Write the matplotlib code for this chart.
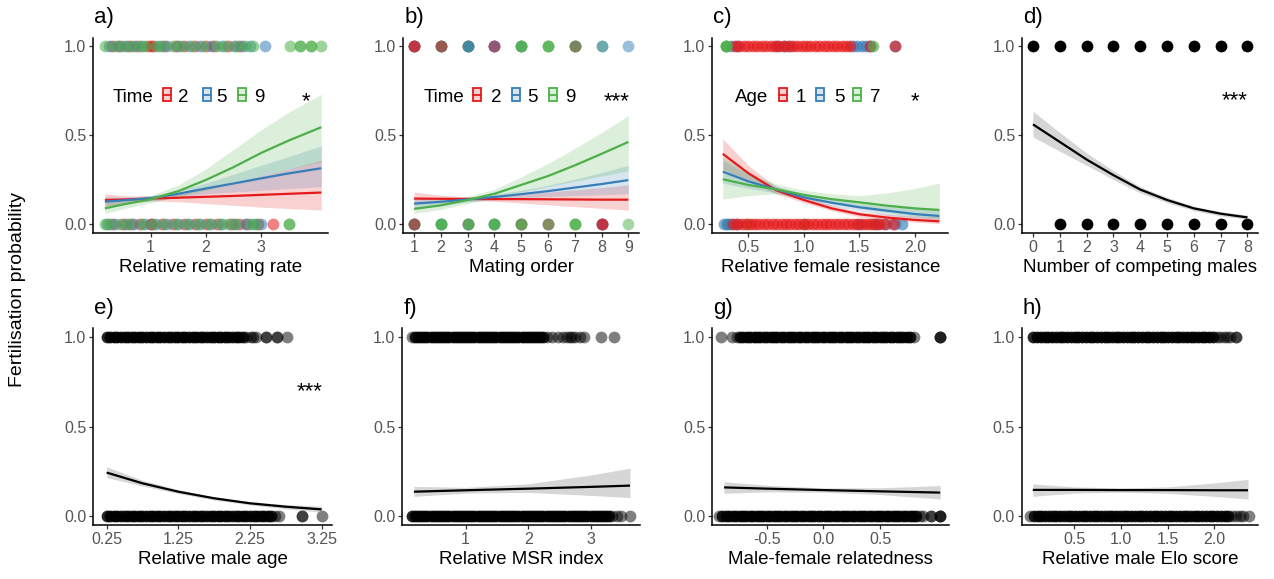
import matplotlib
matplotlib.use("Agg")
import matplotlib.pyplot as plt
from matplotlib.patches import Rectangle
from matplotlib.lines import Line2D

plt.rcParams['font.family'] = ['Liberation Sans', 'DejaVu Sans']

RED = '#E41A1C'
BLUE = '#377EB8'
GREEN = '#4DAF4A'

####################################################################
# a) relative remating rate, by time (2, 5, 9)
####################################################################
a_levels = ['2', '5', '9']
a_top_t2 = [0.30, 0.45, 0.60, 0.75, 0.95, 1.00, 1.05, 1.25, 1.45, 1.60, 1.80, 2.00, 2.15, 2.40, 2.60]
a_top_t5 = [0.25, 0.40, 0.55, 0.70, 0.85, 1.15, 1.30, 1.50, 1.70, 1.90, 2.10, 2.30, 2.50, 2.65, 2.80, 3.07]
a_top_t9 = [0.17, 0.35, 0.50, 0.65, 0.80, 0.90, 1.10, 1.20, 1.40, 1.55, 1.75, 1.95, 2.20, 2.35,
            2.55, 2.70, 2.85, 3.52, 3.70, 3.70, 3.91, 3.91, 4.09]
a_bot_t2 = [0.30, 0.50, 0.65, 0.80, 1.00, 1.00, 1.20, 1.40, 1.60, 1.80, 2.00, 2.20, 2.45, 2.60,
            2.75, 2.95, 3.22]
a_bot_t5 = [0.20, 0.35, 0.55, 0.70, 0.90, 1.10, 1.30, 1.50, 1.70, 1.90, 2.10, 2.30, 2.50, 2.70,
            2.85, 3.00]
a_bot_t9 = [0.17, 0.25, 0.45, 0.60, 0.85, 1.05, 1.25, 1.45, 1.65, 1.85, 2.05, 2.25, 2.40, 2.55,
            2.80, 2.90, 3.50, 3.50]

a_fit_x = [0.17, 0.5, 1.0, 1.5, 2.0, 2.5, 3.0, 3.5, 4.09]
a_fit_t2 = [0.135, 0.138, 0.143, 0.148, 0.153, 0.158, 0.164, 0.170, 0.177]
a_lo_t2 = [0.100, 0.115, 0.130, 0.125, 0.115, 0.105, 0.095, 0.087, 0.079]
a_hi_t2 = [0.170, 0.160, 0.157, 0.175, 0.200, 0.230, 0.270, 0.310, 0.360]
a_fit_t5 = [0.126, 0.133, 0.145, 0.170, 0.200, 0.228, 0.257, 0.285, 0.314]
a_lo_t5 = [0.100, 0.115, 0.130, 0.150, 0.170, 0.180, 0.190, 0.200, 0.210]
a_hi_t5 = [0.155, 0.150, 0.160, 0.190, 0.230, 0.280, 0.330, 0.380, 0.440]
a_fit_t9 = [0.088, 0.110, 0.139, 0.185, 0.248, 0.320, 0.400, 0.470, 0.545]
a_lo_t9 = [0.060, 0.085, 0.120, 0.155, 0.190, 0.230, 0.270, 0.310, 0.350]
a_hi_t9 = [0.130, 0.140, 0.160, 0.220, 0.310, 0.420, 0.530, 0.630, 0.730]

####################################################################
# b) mating order, by time; each string = groups observed at that order
####################################################################
b_x = [1, 2, 3, 4, 5, 6, 7, 8, 9]
b_top_groups = ['55522', '99952', '29955', '2225', '5999', '999', '5529', '95', '5']
b_bot_groups = ['99952', '5999', '2599', '5999', '5299', '529', '999', '55522', '9']

b_fit_x = [1, 2, 3, 4, 5, 6, 7, 8, 9]
b_fit_t2 = [0.143, 0.142, 0.141, 0.140, 0.140, 0.139, 0.138, 0.137, 0.137]
b_lo_t2 = [0.110, 0.125, 0.132, 0.128, 0.118, 0.108, 0.098, 0.088, 0.078]
b_hi_t2 = [0.180, 0.162, 0.152, 0.156, 0.168, 0.180, 0.192, 0.205, 0.220]
b_fit_t5 = [0.115, 0.125, 0.138, 0.152, 0.168, 0.185, 0.205, 0.225, 0.247]
b_lo_t5 = [0.090, 0.106, 0.124, 0.138, 0.148, 0.155, 0.160, 0.165, 0.170]
b_hi_t5 = [0.145, 0.145, 0.152, 0.168, 0.190, 0.218, 0.252, 0.290, 0.330]
b_fit_t9 = [0.085, 0.105, 0.135, 0.170, 0.220, 0.270, 0.330, 0.395, 0.462]
b_lo_t9 = [0.060, 0.082, 0.115, 0.150, 0.180, 0.210, 0.240, 0.270, 0.300]
b_hi_t9 = [0.120, 0.135, 0.155, 0.195, 0.265, 0.340, 0.425, 0.515, 0.610]

####################################################################
# c) relative female resistance, by age (1, 5, 7)
####################################################################
c_levels = ['1', '5', '7']
c_top_a1 = [0.38, 0.42, 0.46, 0.50, 0.54, 0.58, 0.62, 0.66, 0.70, 0.74, 0.78, 0.82, 0.86, 0.90,
            0.94, 0.98, 1.02, 1.06, 1.10, 1.14, 1.18, 1.22, 1.26, 1.30, 1.34, 1.38, 1.42, 1.60, 1.82]
c_top_a5 = [0.34, 0.40, 0.76, 0.82, 0.88, 1.44, 1.48, 1.52, 1.56, 1.60, 1.82]
c_top_a7 = [0.30, 0.30, 0.30, 1.62]
c_bot_a1 = [0.36, 0.40, 0.44, 0.48, 0.52, 0.56, 0.60, 0.64, 0.68, 0.72, 0.76, 0.80, 0.84, 0.88,
            0.92, 0.96, 1.00, 1.04, 1.08, 1.12, 1.16, 1.20, 1.24, 1.28, 1.32, 1.36, 1.40, 1.44,
            1.48, 1.52, 1.56, 1.60, 1.64, 1.68, 1.72, 1.80]
c_bot_a5 = [0.28, 0.31, 0.34, 0.40, 1.50, 1.66, 1.74, 1.82, 1.88]
c_bot_a7 = [0.32, 0.50, 1.00, 1.62]

c_fit_x = [0.27, 0.5, 0.75, 1.0, 1.25, 1.5, 1.75, 2.0, 2.22]
c_fit_a1 = [0.395, 0.286, 0.190, 0.135, 0.088, 0.055, 0.036, 0.023, 0.015]
c_lo_a1 = [0.310, 0.240, 0.170, 0.120, 0.075, 0.040, 0.022, 0.010, 0.003]
c_hi_a1 = [0.480, 0.330, 0.210, 0.155, 0.105, 0.070, 0.055, 0.045, 0.040]
c_fit_a5 = [0.295, 0.240, 0.195, 0.150, 0.120, 0.094, 0.075, 0.056, 0.045]
c_lo_a5 = [0.230, 0.200, 0.175, 0.135, 0.100, 0.075, 0.050, 0.035, 0.025]
c_hi_a5 = [0.360, 0.280, 0.215, 0.170, 0.140, 0.115, 0.100, 0.090, 0.080]
c_fit_a7 = [0.252, 0.220, 0.195, 0.164, 0.140, 0.122, 0.103, 0.088, 0.079]
c_lo_a7 = [0.140, 0.160, 0.170, 0.145, 0.115, 0.090, 0.065, 0.045, 0.030]
c_hi_a7 = [0.380, 0.290, 0.225, 0.190, 0.170, 0.160, 0.175, 0.200, 0.230]

####################################################################
# d) number of competing males
####################################################################
d_top_x = [0, 1, 2, 3, 4, 5, 6, 7, 8]
d_bot_x = [1, 2, 3, 4, 5, 6, 7, 8]
d_fit_x = [0, 1, 2, 3, 4, 5, 6, 7, 8]
d_fit = [0.561, 0.462, 0.363, 0.275, 0.194, 0.135, 0.088, 0.058, 0.037]
d_lo = [0.490, 0.410, 0.330, 0.250, 0.175, 0.120, 0.075, 0.045, 0.028]
d_hi = [0.635, 0.515, 0.400, 0.300, 0.210, 0.150, 0.100, 0.070, 0.050]

####################################################################
# e) relative male age  (dense = heavily overplotted run, sparse = lone points)
####################################################################
e_top_dense = [0.25, 0.30, 0.35, 0.40, 0.45, 0.50, 0.55, 0.60, 0.65, 0.70,
               0.75, 0.80, 0.85, 0.90, 0.95, 1.00, 1.05, 1.10, 1.15, 1.20,
               1.25, 1.30, 1.35, 1.40, 1.45, 1.50, 1.55, 1.60, 1.65, 1.70,
               1.75, 1.80, 1.85, 1.90, 1.95, 2.00, 2.05, 2.10, 2.15]
e_top_sparse = [2.20, 2.26, 2.29, 2.33, 2.47, 2.47, 2.63, 2.63, 2.77]
e_bot_dense = [0.25, 0.30, 0.35, 0.40, 0.45, 0.50, 0.55, 0.60, 0.65, 0.70,
               0.75, 0.80, 0.85, 0.90, 0.95, 1.00, 1.05, 1.10, 1.15, 1.20,
               1.25, 1.30, 1.35, 1.40, 1.45, 1.50, 1.55, 1.60, 1.65, 1.70,
               1.75, 1.80, 1.85, 1.90, 1.95, 2.00, 2.05, 2.10, 2.15, 2.20,
               2.25, 2.30, 2.35, 2.40, 2.45, 2.50, 2.55]
e_bot_sparse = [2.60, 2.65, 2.97, 2.97, 3.25]
e_fit_x = [0.25, 0.75, 1.25, 1.75, 2.25, 2.75, 3.25]
e_fit = [0.243, 0.183, 0.136, 0.099, 0.071, 0.052, 0.037]
e_lo = [0.215, 0.168, 0.126, 0.090, 0.062, 0.040, 0.022]
e_hi = [0.275, 0.200, 0.147, 0.108, 0.080, 0.064, 0.055]

####################################################################
# f) relative MSR index
####################################################################
f_top_dense = [0.19, 0.24, 0.29, 0.34, 0.39, 0.44, 0.49, 0.54, 0.59,
               0.64, 0.69, 0.74, 0.79, 0.84, 0.89, 0.94, 0.99, 1.04, 1.09,
               1.14, 1.19, 1.24, 1.29, 1.34, 1.39, 1.44, 1.49, 1.54, 1.59,
               1.64, 1.69, 1.74, 1.79, 1.84, 1.89, 1.94, 1.99, 2.04, 2.09,
               2.14, 2.19, 2.24]
f_top_sparse = [0.14, 2.29, 2.38, 2.47, 2.55, 2.62, 2.66, 2.70, 2.74, 2.83, 2.88, 3.15, 3.36]
f_bot_dense = [0.14, 0.19, 0.24, 0.29, 0.34, 0.39, 0.44, 0.49, 0.54, 0.59,
               0.64, 0.69, 0.74, 0.79, 0.84, 0.89, 0.94, 0.99, 1.04, 1.09,
               1.14, 1.19, 1.24, 1.29, 1.34, 1.39, 1.44, 1.49, 1.54, 1.59,
               1.64, 1.69, 1.74, 1.79, 1.84, 1.89, 1.94, 1.99, 2.04, 2.09,
               2.14, 2.19, 2.24, 2.29, 2.34, 2.39, 2.44, 2.49, 2.54, 2.59,
               2.64, 2.69, 2.74, 2.79, 2.84, 2.89, 2.94, 2.99, 3.04, 3.09,
               3.14, 3.19, 3.24, 3.29]
f_bot_sparse = [3.34, 3.41, 3.47, 3.62]
f_fit_x = [0.175, 1.0, 2.0, 3.0, 3.62]
f_fit = [0.136, 0.144, 0.153, 0.163, 0.170]
f_lo = [0.110, 0.128, 0.132, 0.115, 0.103]
f_hi = [0.166, 0.160, 0.180, 0.230, 0.268]

####################################################################
# g) male-female relatedness
####################################################################
g_top_dense = [-0.735, -0.705, -0.675, -0.645, -0.615, -0.585, -0.555, -0.525, -0.495,
               -0.465, -0.435, -0.405, -0.375, -0.345, -0.315, -0.285, -0.255, -0.225, -0.195,
               -0.165, -0.135, -0.105, -0.075, -0.045, -0.015, 0.015, 0.045, 0.075, 0.105,
               0.135, 0.165, 0.195, 0.225, 0.255, 0.285, 0.315, 0.345, 0.375, 0.405,
               0.435, 0.465, 0.495, 0.525, 0.555, 0.585, 0.615, 0.645, 0.675, 0.705,
               0.735, 0.765]
g_top_sparse = [-0.90, -0.81, -0.765, 0.795, 1.03, 1.03, 1.03]
g_bot_dense = [-0.89, -0.86, -0.83, -0.80, -0.77, -0.74, -0.71, -0.68, -0.65,
               -0.62, -0.59, -0.56, -0.53, -0.50, -0.47, -0.44, -0.41, -0.38, -0.35,
               -0.32, -0.29, -0.26, -0.23, -0.20, -0.17, -0.14, -0.11, -0.08, -0.05,
               -0.02, 0.01, 0.04, 0.07, 0.10, 0.13, 0.16, 0.19, 0.22, 0.25,
               0.28, 0.31, 0.34, 0.37, 0.40, 0.43, 0.46, 0.49, 0.52, 0.55,
               0.58, 0.61, 0.64, 0.67, 0.70, 0.73, 0.76, 0.79, 0.82]
g_bot_sparse = [-0.92, 0.85, 0.88, 0.95, 0.95, 1.03, 1.03, 1.03]
g_fit_x = [-0.876, -0.5, 0.0, 0.5, 1.03]
g_fit = [0.160, 0.153, 0.145, 0.138, 0.131]
g_lo = [0.127, 0.135, 0.133, 0.120, 0.095]
g_hi = [0.192, 0.172, 0.157, 0.158, 0.170]

####################################################################
# h) relative male Elo score
####################################################################
h_top_dense = [0.065, 0.105, 0.145, 0.185, 0.225, 0.265, 0.305, 0.345, 0.385, 0.425,
               0.465, 0.505, 0.545, 0.585, 0.625, 0.665, 0.705, 0.745, 0.785, 0.825,
               0.865, 0.905, 0.945, 0.985, 1.025, 1.065, 1.105, 1.145, 1.185, 1.225,
               1.265, 1.305, 1.345, 1.385, 1.425, 1.465, 1.505, 1.545, 1.585, 1.625,
               1.665, 1.705, 1.745, 1.785, 1.825, 1.865, 1.905, 1.945, 1.985]
h_top_sparse = [2.025, 2.065, 2.10, 2.13, 2.17, 2.23, 2.23]
h_bot_dense = [0.07, 0.11, 0.15, 0.19, 0.23, 0.27, 0.31, 0.35, 0.39,
               0.43, 0.47, 0.51, 0.55, 0.59, 0.63, 0.67, 0.71, 0.75, 0.79,
               0.83, 0.87, 0.91, 0.95, 0.99, 1.03, 1.07, 1.11, 1.15, 1.19,
               1.23, 1.27, 1.31, 1.35, 1.39, 1.43, 1.47, 1.51, 1.55, 1.59,
               1.63, 1.67, 1.71, 1.75, 1.79, 1.83, 1.87, 1.91, 1.95, 1.99,
               2.03, 2.07, 2.11, 2.15]
h_bot_sparse = [0.03, 2.19, 2.23, 2.27, 2.31, 2.37]
h_fit_x = [0.058, 0.5, 1.0, 1.5, 2.0, 2.36]
h_fit = [0.146, 0.146, 0.145, 0.145, 0.144, 0.144]
h_lo = [0.110, 0.128, 0.133, 0.127, 0.110, 0.095]
h_hi = [0.180, 0.163, 0.157, 0.163, 0.185, 0.205]

# level -> colour for the coloured panels
colours_time = {'2': RED, '5': BLUE, '9': GREEN}
colours_age = {'1': RED, '5': BLUE, '7': GREEN}

PT_SIZE = 72
PT_ALPHA = 0.5
DENSE_ALPHA = 0.85   # heavily overplotted runs read as nearly solid


def style_axes(ax, xlim, xticks, xticklabels, xlabel, letter):
    ax.set_xlim(*xlim)
    ax.set_ylim(-0.05, 1.05)
    ax.set_xticks(xticks)
    ax.set_xticklabels(xticklabels)
    ax.set_yticks([0, 0.5, 1.0])
    ax.set_yticklabels(['0.0', '0.5', '1.0'])
    for side in ['top', 'right']:
        ax.spines[side].set_visible(False)
    for side in ['left', 'bottom']:
        ax.spines[side].set_linewidth(1.1)
        ax.spines[side].set_color('black')
    ax.tick_params(direction='out', length=3, width=0.9, color='#333333',
                   labelcolor='#555555', labelsize=11.5, pad=2)
    ax.text(0.5, -0.175, xlabel, transform=ax.transAxes, ha='center', va='center',
            fontsize=13.5)
    ax.text(0.005, 1.10, letter, transform=ax.transAxes, ha='left', va='center',
            fontsize=16)


def draw_fit(ax, x, fit, lo, hi, colour, fill, fill_alpha):
    ax.fill_between(x, lo, hi, color=fill, alpha=fill_alpha, lw=0)
    ax.plot(x, fit, color=colour, lw=1.6, solid_capstyle='butt')


def draw_points(ax, xs, y, colour, alpha=PT_ALPHA):
    ax.scatter(xs, [y] * len(xs), s=PT_SIZE, color=colour, alpha=alpha,
               linewidths=0, clip_on=False)


def draw_legend(ax, title, levels, colours, title_x, key_xs, label_xs):
    ax.text(title_x, 0.671, title, transform=ax.transAxes, ha='left', va='baseline',
            fontsize=13.5)
    w, h = 0.034, 0.066
    for lev, kx, lx in zip(levels, key_xs, label_xs):
        c = colours[lev]
        ax.add_patch(Rectangle((kx - w / 2, 0.708 - h / 2), w, h, transform=ax.transAxes,
                               facecolor=c, alpha=0.2, lw=0))
        ax.add_patch(Rectangle((kx - w / 2, 0.708 - h / 2), w, h, transform=ax.transAxes,
                               facecolor='none', edgecolor=c, lw=1.3))
        ax.add_line(Line2D([kx - w / 2, kx + w / 2], [0.708, 0.708], transform=ax.transAxes,
                           color=c, lw=1.3))
        ax.text(lx, 0.671, lev, transform=ax.transAxes, ha='center', va='baseline',
                fontsize=13.5)


def draw_stars(ax, text, x, y):
    ax.text(x, y, text, transform=ax.transAxes, ha='center', va='baseline', fontsize=16)


def main():
    fig = plt.figure(figsize=(12.74, 5.79), dpi=100)

    top_b, top_h = 0.5978, 0.3374
    bot_b, bot_h = 0.0934, 0.3394
    ax_a = fig.add_axes([0.0732, top_b, 0.1842, top_h])
    ax_b = fig.add_axes([0.3166, top_b, 0.1850, top_h])
    ax_c = fig.add_axes([0.5591, top_b, 0.1852, top_h])
    ax_d = fig.add_axes([0.8024, top_b, 0.1852, top_h])
    ax_e = fig.add_axes([0.0732, bot_b, 0.1871, bot_h])
    ax_f = fig.add_axes([0.3158, bot_b, 0.1866, bot_h])
    ax_g = fig.add_axes([0.5591, bot_b, 0.1860, bot_h])
    ax_h = fig.add_axes([0.8020, bot_b, 0.1857, bot_h])

    # a)
    for xs, y, lev in [(a_top_t2, 1, '2'), (a_top_t5, 1, '5'), (a_top_t9, 1, '9'),
                       (a_bot_t2, 0, '2'), (a_bot_t5, 0, '5'), (a_bot_t9, 0, '9')]:
        draw_points(ax_a, xs, y, colours_time[lev], alpha=0.55)
    for fit, lo, hi, lev in [(a_fit_t2, a_lo_t2, a_hi_t2, '2'),
                             (a_fit_t5, a_lo_t5, a_hi_t5, '5'),
                             (a_fit_t9, a_lo_t9, a_hi_t9, '9')]:
        c = colours_time[lev]
        draw_fit(ax_a, a_fit_x, fit, lo, hi, c, c, 0.2)
    style_axes(ax_a, (-0.04, 4.21), [1, 2, 3], ['1', '2', '3'], 'Relative remating rate', 'a)')
    draw_legend(ax_a, 'Time', a_levels, colours_time, 0.084,
                [0.314, 0.484, 0.633], [0.382, 0.548, 0.706])
    draw_stars(ax_a, '*', 0.906, 0.645)

    # b)
    for x, groups in zip(b_x, b_top_groups):
        for lev in groups:
            draw_points(ax_b, [x], 1, colours_time[lev])
    for x, groups in zip(b_x, b_bot_groups):
        for lev in groups:
            draw_points(ax_b, [x], 0, colours_time[lev])
    for fit, lo, hi, lev in [(b_fit_t2, b_lo_t2, b_hi_t2, '2'),
                             (b_fit_t5, b_lo_t5, b_hi_t5, '5'),
                             (b_fit_t9, b_lo_t9, b_hi_t9, '9')]:
        c = colours_time[lev]
        draw_fit(ax_b, b_fit_x, fit, lo, hi, c, c, 0.2)
    style_axes(ax_b, (0.6, 9.4), b_x, [str(v) for v in b_x], 'Mating order', 'b)')
    draw_legend(ax_b, 'Time', a_levels, colours_time, 0.085,
                [0.314, 0.477, 0.634], [0.393, 0.549, 0.707])
    draw_stars(ax_b, '***', 0.905, 0.645)

    # c)
    for xs, y, lev in [(c_top_a5, 1, '5'), (c_top_a1, 1, '1'), (c_top_a7, 1, '7'),
                       (c_bot_a7, 0, '7'), (c_bot_a5, 0, '5'), (c_bot_a1, 0, '1')]:
        draw_points(ax_c, xs, y, colours_age[lev], alpha=0.65)
    for fit, lo, hi, lev in [(c_fit_a1, c_lo_a1, c_hi_a1, '1'),
                             (c_fit_a5, c_lo_a5, c_hi_a5, '5'),
                             (c_fit_a7, c_lo_a7, c_hi_a7, '7')]:
        c = colours_age[lev]
        draw_fit(ax_c, c_fit_x, fit, lo, hi, c, c, 0.2)
    style_axes(ax_c, (0.176, 2.30), [0.5, 1.0, 1.5, 2.0], ['0.5', '1.0', '1.5', '2.0'],
               'Relative female resistance', 'c)')
    draw_legend(ax_c, 'Age', c_levels, colours_age, 0.096,
                [0.300, 0.456, 0.612], [0.375, 0.538, 0.689])
    draw_stars(ax_c, '*', 0.859, 0.645)

    # d)
    draw_points(ax_d, d_top_x, 1, 'black', alpha=1)
    draw_points(ax_d, d_bot_x, 0, 'black', alpha=1)
    draw_fit(ax_d, d_fit_x, d_fit, d_lo, d_hi, 'black', '#999999', 0.4)
    style_axes(ax_d, (-0.4, 8.4), d_top_x, [str(v) for v in d_top_x],
               'Number of competing males', 'd)')
    draw_stars(ax_d, '***', 0.90, 0.647)

    # e) - h)
    grey_panels = [
        (ax_e, e_top_dense, e_top_sparse, e_bot_dense, e_bot_sparse,
         e_fit_x, e_fit, e_lo, e_hi, (0.063, 3.39),
         [0.25, 1.25, 2.25, 3.25], ['0.25', '1.25', '2.25', '3.25'], 'Relative male age', 'e)'),
        (ax_f, f_top_dense, f_top_sparse, f_bot_dense, f_bot_sparse,
         f_fit_x, f_fit, f_lo, f_hi, (-0.01, 3.78),
         [1, 2, 3], ['1', '2', '3'], 'Relative MSR index', 'f)'),
        (ax_g, g_top_dense, g_top_sparse, g_bot_dense, g_bot_sparse,
         g_fit_x, g_fit, g_lo, g_hi, (-0.98, 1.11),
         [-0.5, 0.0, 0.5], ['-0.5', '0.0', '0.5'], 'Male-female relatedness', 'g)'),
        (ax_h, h_top_dense, h_top_sparse, h_bot_dense, h_bot_sparse,
         h_fit_x, h_fit, h_lo, h_hi, (-0.06, 2.47),
         [0.5, 1.0, 1.5, 2.0], ['0.5', '1.0', '1.5', '2.0'], 'Relative male Elo score', 'h)'),
    ]
    for (ax, top_d, top_s, bot_d, bot_s, fx, fit, lo, hi,
         xlim, ticks, labels, xlabel, letter) in grey_panels:
        draw_points(ax, top_s, 1, 'black')
        draw_points(ax, bot_s, 0, 'black')
        draw_points(ax, top_d, 1, 'black', alpha=DENSE_ALPHA)
        draw_points(ax, bot_d, 0, 'black', alpha=DENSE_ALPHA)
        draw_fit(ax, fx, fit, lo, hi, 'black', '#999999', 0.4)
        style_axes(ax, xlim, ticks, labels, xlabel, letter)
    draw_stars(ax_e, '***', 0.906, 0.650)

    fig.text(0.014, 0.5, 'Fertilisation probability', rotation=90, ha='center',
             va='center', fontsize=14)

    fig.savefig('out.png', dpi=100)


if __name__ == "__main__":
    main()
